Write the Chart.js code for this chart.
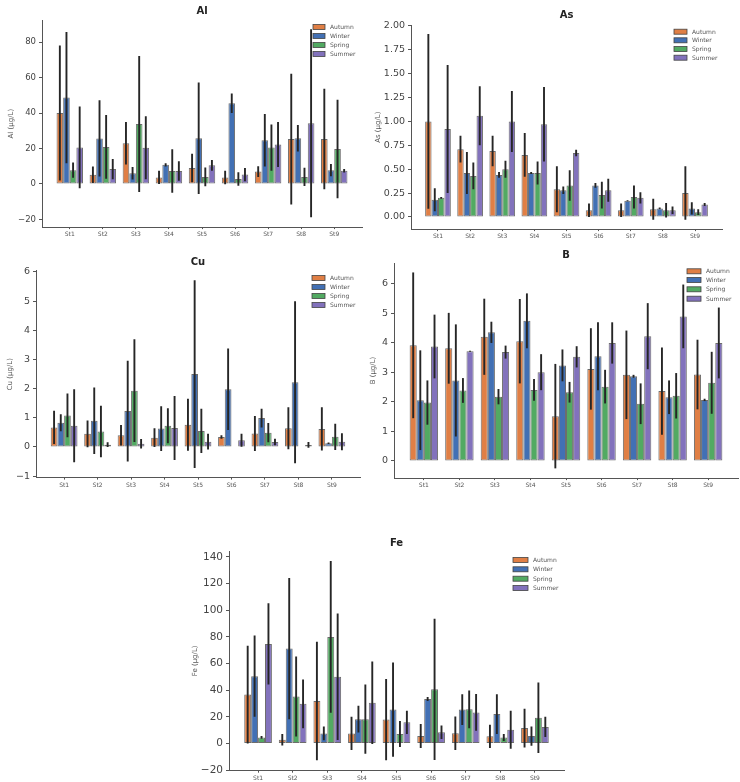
<!DOCTYPE html>
<html lang="en">
<head>
<meta charset="UTF-8" />
<title>Seasonal metal concentrations by station</title>
<script src="https://cdn.jsdelivr.net/npm/chart.js"></script>
<style>
  body { margin: 0; background: #fff; }
  #wrap { position: relative; width: 740px; height: 782px; }
  canvas { position: absolute; }
</style>
</head>
<body>
<div id="wrap">
  <canvas id="al"></canvas>
  <canvas id="as"></canvas>
  <canvas id="cu"></canvas>
  <canvas id="b"></canvas>
  <canvas id="fe"></canvas>
</div>
<script>
// categories
const stations = ['St1', 'St2', 'St3', 'St4', 'St5', 'St6', 'St7', 'St8', 'St9'];
const seasons = ['Autumn', 'Winter', 'Spring', 'Summer'];
const seasonColors = ['#E07F45', '#4270B4', '#52AA62', '#8272BC'];

// means, rows = Autumn, Winter, Spring, Summer
const alMean = [
  [40, 5.2, 23, 3.7, 9, 3.6, 7, 25.3, 25.3],
  [48.7, 25.7, 6, 10.8, 25.8, 45.5, 24.7, 25.8, 7.8],
  [7.8, 20.9, 33.8, 7.3, 4, 2.8, 20.5, 4, 19.7],
  [20.6, 8.4, 20.4, 7.3, 10.5, 5.3, 22.2, 34.2, 7.5]
];
const alSd = [
  [38, 4.7, 12, 3.7, 8, 3.8, 3, 36.8, 28.3],
  [37, 21.5, 3.5, 0.9, 31.4, 5.5, 14.8, 7.5, 3.5],
  [4.3, 18, 38.3, 12.3, 5.3, 3.8, 13, 5.1, 27.7],
  [23, 5.7, 17.8, 5.5, 3, 3.7, 12.7, 53, 1]
];
const asMean = [
  [1.00, 0.71, 0.69, 0.65, 0.29, 0.07, 0.07, 0.08, 0.25],
  [0.18, 0.46, 0.44, 0.46, 0.28, 0.33, 0.17, 0.09, 0.09],
  [0.20, 0.43, 0.50, 0.46, 0.33, 0.23, 0.21, 0.07, 0.05],
  [0.92, 1.06, 1.00, 0.97, 0.67, 0.28, 0.20, 0.07, 0.13]
];
const asSd = [
  [0.915, 0.14, 0.16, 0.23, 0.24, 0.07, 0.07, 0.11, 0.28],
  [0.12, 0.22, 0.03, 0.01, 0.04, 0.025, 0.005, 0.01, 0.065],
  [0.01, 0.14, 0.09, 0.12, 0.16, 0.14, 0.12, 0.075, 0.03],
  [0.67, 0.31, 0.32, 0.39, 0.035, 0.12, 0.06, 0.04, 0.015]
];
const cuMean = [
  [0.67, 0.45, 0.40, 0.32, 0.76, 0.34, 0.46, 0.64, 0.62],
  [0.83, 0.90, 1.23, 0.63, 2.50, 1.98, 0.99, 2.22, 0.13],
  [1.08, 0.53, 1.93, 0.73, 0.55, 0, 0.49, 0, 0.35],
  [0.73, 0.08, 0.11, 0.65, 0.18, 0.23, 0.17, 0.07, 0.18]
];
const cuSd = [
  [0.57, 0.46, 0.35, 0.32, 0.89, 0.06, 0.6, 0.72, 0.74],
  [0.29, 1.14, 1.73, 0.77, 3.22, 1.4, 0.32, 2.78, 0.025],
  [0.75, 0.88, 1.76, 0.6, 0.76, 0, 0.33, 0, 0.45],
  [1.25, 0.08, 0.16, 1.1, 0.27, 0.22, 0.11, 0.1, 0.29]
];
const bMean = [
  [3.92, 3.82, 4.21, 4.06, 1.52, 3.12, 2.92, 2.37, 2.93],
  [2.06, 2.73, 4.36, 4.75, 3.24, 3.55, 2.87, 2.16, 2.07],
  [1.98, 2.39, 2.18, 2.41, 2.33, 2.52, 1.94, 2.21, 2.65],
  [3.88, 3.72, 3.69, 3.01, 3.53, 4.00, 4.23, 4.90, 4.00]
];
const bSd = [
  [2.47, 1.2, 1.29, 1.43, 1.77, 1.38, 1.5, 1.48, 1.18],
  [1.69, 1.9, 0.36, 0.93, 0.54, 1.15, 0.05, 0.57, 0.04],
  [0.75, 0.42, 0.26, 0.37, 0.35, 0.57, 0.69, 0.77, 1.05],
  [1.08, 0.02, 0.22, 0.61, 0.36, 0.7, 1.12, 1.08, 1.2]
];
const feMean = [
  [36.7, 2.7, 31.9, 7.5, 17.9, 5.5, 7.6, 5.3, 11.5],
  [50.5, 71.2, 7.5, 18.2, 25.4, 33.4, 25.4, 22, 5.5],
  [4.5, 35.2, 80, 18.2, 7.1, 40.6, 25.6, 4.4, 19.2],
  [74.7, 29.7, 50, 30.6, 15.8, 8.4, 23.3, 10.2, 12.4]
];
const feSd = [
  [36.7, 4.3, 44.5, 12.5, 30.5, 9, 12.6, 8.7, 14.5],
  [30.5, 53, 5.2, 10, 35.4, 1.5, 11.5, 15, 7.2],
  [1, 30, 57, 26, 9.8, 53, 14.2, 2.6, 26.5],
  [30.5, 18.3, 47.5, 31, 8.8, 5, 13.8, 14.3, 7.6]
];

const FONT = "'DejaVu Sans', sans-serif";

// error bars drawn from the y scale
const errorBars = {
  id: 'errorBars',
  afterDatasetsDraw(chart) {
    const { ctx, chartArea, scales } = chart;
    const y = scales.y;
    ctx.save();
    ctx.beginPath();
    ctx.rect(chartArea.left, chartArea.top, chartArea.width, chartArea.height);
    ctx.clip();
    ctx.strokeStyle = '#262626';
    ctx.lineWidth = 1.9;
    chart.data.datasets.forEach((ds, i) => {
      chart.getDatasetMeta(i).data.forEach((bar, j) => {
        const m = ds.data[j].y, e = ds.errors[j];
        if (!e) return;
        ctx.beginPath();
        ctx.moveTo(bar.x, y.getPixelForValue(m - e));
        ctx.lineTo(bar.x, y.getPixelForValue(m + e));
        ctx.stroke();
      });
    });
    ctx.restore();
  }
};

// title + in-axes legend
const deco = {
  id: 'deco',
  afterDraw(chart, args, o) {
    const { ctx, chartArea } = chart;
    ctx.save();
    ctx.fillStyle = '#222';
    ctx.font = 'bold 10px ' + FONT;
    ctx.textAlign = 'center';
    ctx.textBaseline = 'middle';
    ctx.fillText(o.title, (chartArea.left + chartArea.right) / 2, o.titleY);
    ctx.font = '6px ' + FONT;
    ctx.textAlign = 'left';
    seasons.forEach((s, k) => {
      const yy = o.rows[k];
      ctx.fillStyle = seasonColors[k];
      ctx.fillRect(o.boxX, yy - o.boxH / 2, o.boxW, o.boxH);
      ctx.strokeStyle = '#444';
      ctx.lineWidth = 0.8;
      ctx.strokeRect(o.boxX, yy - o.boxH / 2, o.boxW, o.boxH);
      ctx.fillStyle = '#555';
      ctx.fillText(s, o.textX, yy + 0.5);
    });
    ctx.restore();
  }
};

function fmt(v, dec) {
  return Number(v).toFixed(dec).replace('-', '\u2212');
}

function drawPanel(p) {
  const cv = document.getElementById(p.id);
  cv.width = p.w; cv.height = p.h;
  cv.style.left = p.x + 'px'; cv.style.top = p.y + 'px';
  cv.style.width = p.w + 'px'; cv.style.height = p.h + 'px';

  const datasets = seasons.map((s, k) => ({
    label: s,
    data: stations.map((st, i) => ({ x: i + 1, y: p.mean[k][i] })),
    errors: p.sd[k],
    backgroundColor: seasonColors[k],
    borderColor: 'rgba(60,60,60,0.75)',
    borderWidth: 1,
    borderSkipped: false,
    categoryPercentage: 0.8,
    barPercentage: 1.0
  }));

  new Chart(cv, {
    type: 'bar',
    data: { datasets },
    options: {
      responsive: false,
      animation: false,
      events: [],
      layout: { padding: { left: 0, top: p.padT, right: p.padR, bottom: 0 } },
      plugins: {
        legend: { display: false },
        tooltip: { enabled: false },
        deco: {
          title: p.title,
          titleY: p.titleY - p.y,
          rows: p.legRows.map(r => r - p.y),
          boxX: p.legX - p.x,
          boxW: p.boxW,
          boxH: 5,
          textX: p.legX - p.x + p.boxW + 5
        }
      },
      scales: {
        x: {
          type: 'linear',
          offset: false,
          min: 0.16,
          max: 9.84,
          afterFit: s => { s.height = p.xh; },
          grid: { display: true, offset: false, drawOnChartArea: false, drawTicks: true, tickLength: 2, tickColor: '#555' },
          border: { display: true, color: '#555', width: 1 },
          ticks: {
            stepSize: 1,
            includeBounds: false,
            autoSkip: false,
            maxRotation: 0,
            padding: 2,
            color: '#555',
            font: { family: FONT, size: 6 },
            callback: v => stations[v - 1] || ''
          }
        },
        y: {
          min: p.min,
          max: p.max,
          afterFit: s => { s.width = p.yw; },
          grid: { display: true, drawOnChartArea: false, drawTicks: true, tickLength: 3, tickColor: '#555' },
          border: { display: true, color: '#555', width: 1 },
          ticks: {
            stepSize: p.step,
            includeBounds: false,
            padding: 3,
            color: '#444',
            font: { family: FONT, size: p.tickSize },
            callback: v => fmt(v, p.dec)
          },
          title: {
            display: true,
            text: p.yLabel,
            color: '#555',
            font: { family: FONT, size: 7 },
            padding: { top: p.yTitlePad, bottom: 0 }
          }
        }
      }
    },
    plugins: [errorBars, deco]
  });
}

drawPanel({
  id: 'al', title: 'Al', yLabel: 'Al (\u00b5g/L)', mean: alMean, sd: alSd,
  x: 0, y: 0, w: 368, h: 245, yw: 42, padT: 20.2, padR: 6, xh: 17.9,
  min: -24.3, max: 92.3, step: 20, dec: 0, tickSize: 8.5, yTitlePad: 6.8,
  titleY: 11, legX: 313, boxW: 12, legRows: [27, 36, 45, 54]
});
drawPanel({
  id: 'as', title: 'As', yLabel: 'As (\u00b5g/L)', mean: asMean, sd: asSd,
  x: 370, y: 0, w: 370, h: 245, yw: 41, padT: 25.3, padR: 18, xh: 15.9,
  min: -0.127, max: 2.007, step: 0.25, dec: 2, tickSize: 9.5, yTitlePad: 3.8,
  titleY: 15, legX: 674, boxW: 13, legRows: [31.7, 40.3, 49, 57.7]
});
drawPanel({
  id: 'cu', title: 'Cu', yLabel: 'Cu (\u00b5g/L)', mean: cuMean, sd: cuSd,
  x: 0, y: 250, w: 368, h: 245, yw: 36, padT: 20.8, padR: 8, xh: 17.4,
  min: -1.05, max: 6.04, step: 1, dec: 0, tickSize: 9.5, yTitlePad: 5.8,
  titleY: 262, legX: 312, boxW: 13, legRows: [278, 287, 296, 305]
});
drawPanel({
  id: 'b', title: 'B', yLabel: 'B (\u00b5g/L)', mean: bMean, sd: bSd,
  x: 368, y: 250, w: 372, h: 245, yw: 26, padT: 13, padR: 2, xh: 16.9,
  min: -0.58, max: 6.71, step: 1, dec: 0, tickSize: 9.5, yTitlePad: 0.8,
  titleY: 255, legX: 687, boxW: 14, legRows: [271.3, 280, 289.3, 298.7]
});
drawPanel({
  id: 'fe', title: 'Fe', yLabel: 'Fe (\u00b5g/L)', mean: feMean, sd: feSd,
  x: 185, y: 530, w: 390, h: 252, yw: 44, padT: 21, padR: 11, xh: 11.3,
  min: -20.5, max: 144.5, step: 20, dec: 0, tickSize: 10.5, yTitlePad: 5.5,
  titleY: 543, legX: 513, boxW: 15, legRows: [560, 569.3, 578.7, 588]
});
</script>
</body>
</html>
